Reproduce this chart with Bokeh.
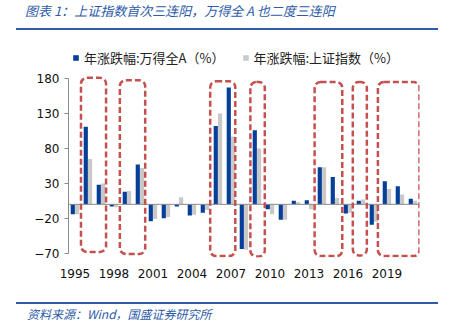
from bokeh.plotting import figure
from bokeh.models import (Range1d, BoxAnnotation, Span, Legend, LegendItem, Div,
                          FixedTicker, ColumnDataSource)
from bokeh.layouts import column
from bokeh.embed import file_html
from bokeh.resources import INLINE

# ---- data ----
years = list(range(1995, 2022))
wind_a = [-14, 111, 28, -3, 18, 57, -24, -20, -3, -16, -12, 112, 167, -64, 106,
          -7, -22, 5, 6, 53, 39, -13, 5, -29, 33, 26, 8]
sh_index = [-14, 65, 30, -4, 19, 52, -21, -18, 10, -15, -8, 130, 97, -65, 80,
            -14, -22, 3, -7, 53, 9, -12, 7, -25, 22, 14, 5]
x_ticks = [1995, 1998, 2001, 2004, 2007, 2010, 2013, 2016, 2019]
y_ticks = [-70, -20, 30, 80, 130, 180]

# highlighted periods (dashed boxes), in data units
box_left = [1995.46, 1998.45, 2005.4, 2008.49, 2013.43, 2016.37, 2018.3]
box_right = [1997.39, 2000.4, 2007.33, 2009.6, 2015.56, 2017.45, 2021.5]
box_top = [181, 177.5, 176, 175, 175, 175, 175]
box_bottom = [-68, -71, -74, -74.5, -74, -73, -74]

title_text = "图表 1：上证指数首次三连阳，万得全 A 也二度三连阳"
source_text = "资料来源：Wind，国盛证券研究所"
label_a = "年涨跌幅:万得全A（%）"
label_b = "年涨跌幅:上证指数（%）"

BLUE = "#053f99"
GRAY = "#c9c9c9"
RED = "#c4514f"
HEAD = "#2d5ba8"

Y_MIN, Y_MAX = -70, 180
Y_LOW_ROOM, Y_TOP_ROOM = -76, 228.6  # extra room beyond the axis (legend, boxes)

src = ColumnDataSource(dict(
    xa=[y - 0.17 for y in years], xb=[y + 0.16 for y in years],
    a=wind_a, b=sh_index))

p = figure(width=455, height=272, output_backend="svg", toolbar_location=None,
           x_range=Range1d(1994.5, 2021.5),
           y_range=Range1d(Y_LOW_ROOM, Y_TOP_ROOM),
           min_border_left=68, min_border_right=36, min_border_top=14,
           min_border_bottom=45, outline_line_color=None)
p.grid.visible = False

ra = p.vbar(x="xa", top="a", bottom=0, width=0.32, source=src,
            fill_color=BLUE, line_color=None)
rb = p.vbar(x="xb", top="b", bottom=0, width=0.32, source=src,
            fill_color=GRAY, line_color=None)
# zero-size quads on the same data, used only for square legend swatches
la = p.quad(left="xa", right="xa", top=0, bottom=0, source=src,
            fill_color=BLUE, line_color=None)
lb = p.quad(left="xb", right="xb", top=0, bottom=0, source=src,
            fill_color=GRAY, line_color=None)

p.add_layout(Span(location=0, dimension="width", line_color="#8c8c8c",
                  line_width=1))

for l, r, t, b in zip(box_left, box_right, box_top, box_bottom):
    p.add_layout(BoxAnnotation(left=l, right=r, top=t, bottom=b,
                               fill_alpha=0, line_color=RED, line_alpha=1,
                               line_width=2.5, line_dash="6 3",
                               border_radius=6, editable=False))

# axes
p.yaxis.ticker = FixedTicker(ticks=y_ticks)
p.yaxis.bounds = (Y_MIN, Y_MAX)
p.yaxis.axis_line_color = "#8c8c8c"
p.yaxis.major_tick_line_color = "#8c8c8c"
p.yaxis.major_tick_out = 4
p.yaxis.major_tick_in = 0
p.yaxis.minor_tick_line_color = None
p.yaxis.major_label_text_font = "DejaVu Sans"
p.yaxis.major_label_text_font_size = "12px"
p.yaxis.major_label_text_color = "#111111"
p.yaxis.major_label_standoff = 5

p.xaxis.ticker = FixedTicker(ticks=x_ticks)
p.xaxis.axis_line_color = None
p.xaxis.major_tick_line_color = None
p.xaxis.minor_tick_line_color = None
p.xaxis.major_label_text_font = "DejaVu Sans"
p.xaxis.major_label_text_font_size = "12px"
p.xaxis.major_label_text_color = "#111111"
p.xaxis.major_label_standoff = 5

legend = Legend(items=[LegendItem(label=label_a, renderers=[la]),
                       LegendItem(label=label_b, renderers=[lb])],
                orientation="horizontal", location="top_left",
                label_text_font="Noto Sans CJK SC",
                label_text_font_size="13px", label_text_color="#222222",
                glyph_width=7, glyph_height=7, label_standoff=5, spacing=17,
                padding=0, margin=4, border_line_color=None,
                background_fill_alpha=0)
p.add_layout(legend, "center")

head = Div(text=title_text, width=455, height=30, margin=0,
           styles={"font-family": "'Noto Sans CJK SC'", "font-style": "italic",
                   "font-size": "13px", "color": HEAD, "box-sizing": "border-box",
                   "margin-left": "16px", "width": "422px", "height": "28px",
                   "padding-left": "9px", "padding-top": "2px",
                   "border-bottom": "2.5px solid " + HEAD})
foot = Div(text=source_text, width=455, height=28, margin=0,
           styles={"font-family": "'Noto Sans CJK SC'", "font-style": "italic",
                   "font-size": "12px", "color": HEAD, "box-sizing": "border-box",
                   "margin-left": "16px", "width": "422px", "height": "26px",
                   "padding-left": "11px", "padding-top": "1px",
                   "border-top": "2.5px solid " + HEAD})

layout = column(head, p, foot, spacing=0)
open("out.html", "w").write(file_html(layout, INLINE))
